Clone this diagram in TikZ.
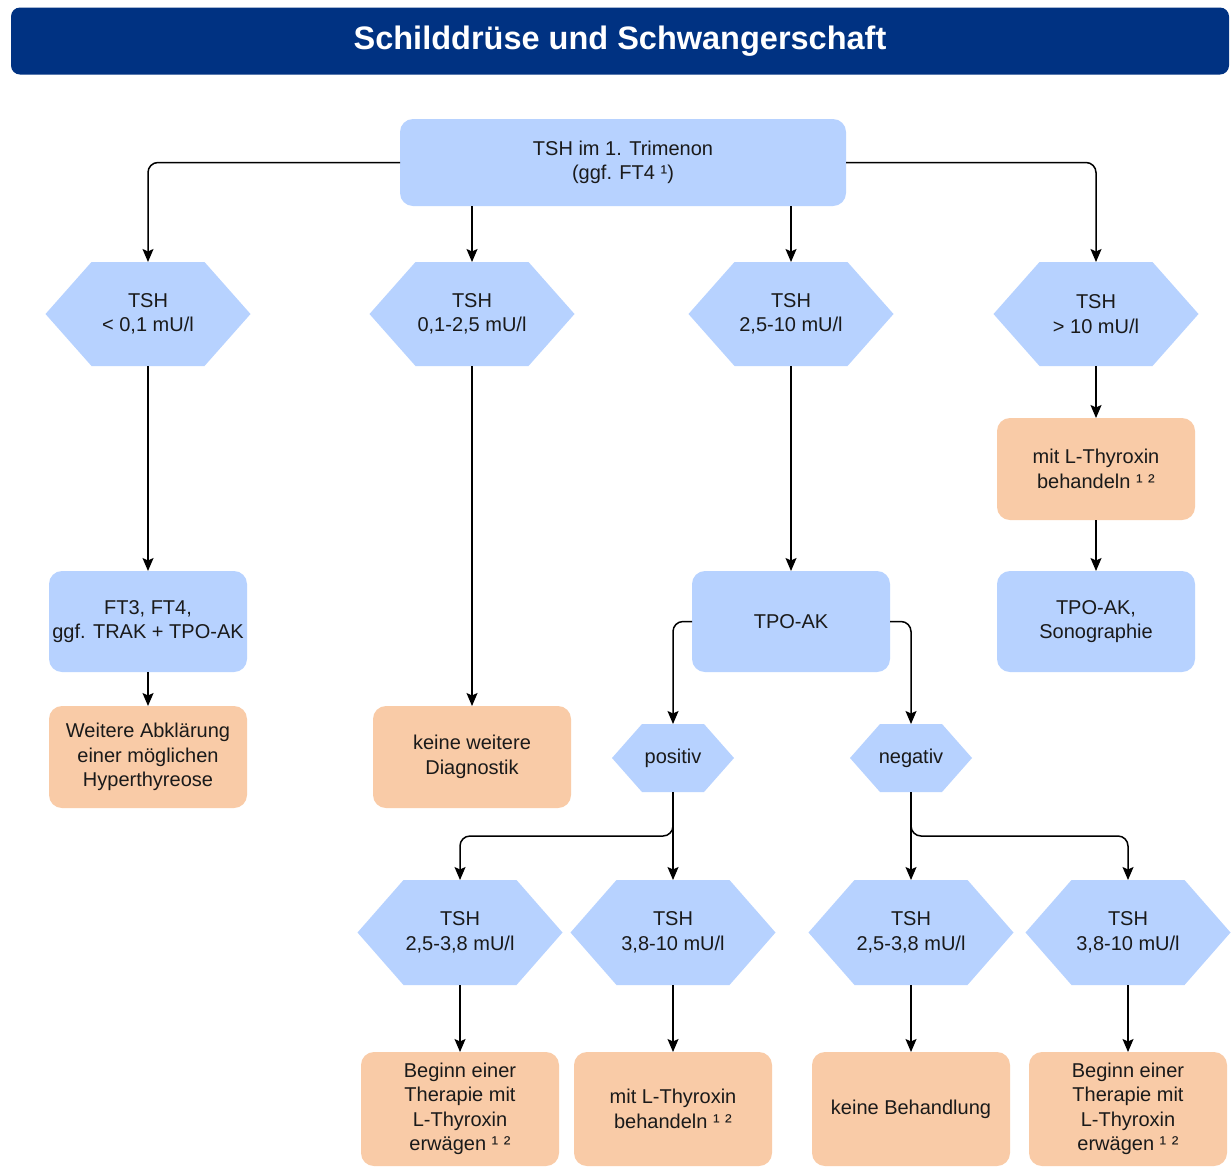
\documentclass[tikz,border=0pt]{standalone}
\usepackage{fontspec}
\setmainfont{Liberation Sans}
\usetikzlibrary{arrows.meta}
\definecolor{titleblue}{RGB}{0,50,130}
\definecolor{boxblue}{RGB}{183,210,255}
\definecolor{boxorange}{RGB}{249,203,167}
\definecolor{ink}{RGB}{26,26,26}
\begin{document}
\begin{tikzpicture}[x=1pt,y=-1pt,
  every node/.style={font=\fontsize{20}{24.5}\selectfont, text=ink, align=center, inner sep=0pt, outer sep=0pt},
  box/.style={rounded corners=13pt, minimum width=198pt, minimum height=101pt},
  bluebox/.style={box, fill=boxblue},
  orangebox/.style={box, fill=boxorange},
  hexa/.style n args={3}{minimum width=#1, minimum height=#2,
    path picture={\fill[boxblue] (path picture bounding box.west)
      -- ([xshift=#3]path picture bounding box.north west)
      -- ([xshift=-#3]path picture bounding box.north east)
      -- (path picture bounding box.east)
      -- ([xshift=-#3]path picture bounding box.south east)
      -- ([xshift=#3]path picture bounding box.south west) -- cycle;}},
  bighex/.style={hexa={205pt}{104pt}{46pt}},
  smallhex/.style={hexa={122pt}{68pt}{30pt}},
  arr/.style={draw=black, line width=1.5pt, rounded corners=10pt,
    -{Stealth[length=13pt,width=11pt,inset=2.5pt]}}
]
\fill[white] (0,0) rectangle (1231,1168);
\useasboundingbox (0,0) rectangle (1231,1168);

% title bar
\node[fill=titleblue, rounded corners=9pt, minimum width=1218pt, minimum height=67pt,
  text=white, font=\bfseries\fontsize{32.5}{36}\selectfont] (title) at (620,41)
  {Schilddrüse und Schwangerschaft};

% start
\node[bluebox, minimum width=446pt, minimum height=87pt] (top) at (623,162.5)
  {TSH im 1. Trimenon\\(ggf. FT4 ¹)};

% first level TSH ranges
\node[bighex] (h1) at (148,314) {TSH\\< 0,1 mU/l};
\node[bighex] (h2) at (472,314) {TSH\\0,1-2,5 mU/l};
\node[bighex] (h3) at (791,314) {TSH\\2,5-10 mU/l};
\node[bighex] (h4) at (1096,314) {TSH\\> 10 mU/l};

% column 1
\node[bluebox] (b1) at (148,621.5) {FT3, FT4,\\ggf. TRAK + TPO-AK};
\node[orangebox, minimum height=102pt] (o1) at (148,757) {Weitere Abklärung\\einer möglichen\\Hyperthyreose};

% column 2
\node[orangebox, minimum height=102pt] (o2) at (472,757) {keine weitere\\Diagnostik};

% column 3
\node[bluebox] (tpo) at (791,621.5) {TPO-AK};
\node[smallhex] (pos) at (673,758) {positiv};
\node[smallhex] (neg) at (911,758) {negativ};

\node[bighex, minimum height=105pt] (r1) at (460,932.5) {TSH\\2,5-3,8 mU/l};
\node[bighex, minimum height=105pt] (r2) at (673,932.5) {TSH\\3,8-10 mU/l};
\node[bighex, minimum height=105pt] (r3) at (911,932.5) {TSH\\2,5-3,8 mU/l};
\node[bighex, minimum height=105pt] (r4) at (1128,932.5) {TSH\\3,8-10 mU/l};

\node[orangebox, minimum height=114pt] (f1) at (460,1109) {Beginn einer\\Therapie mit\\L-Thyroxin\\erwägen ¹ ²};
\node[orangebox, minimum height=114pt] (f2) at (673,1109) {mit L-Thyroxin\\behandeln ¹ ²};
\node[orangebox, minimum height=114pt] (f3) at (911,1109) {keine Behandlung};
\node[orangebox, minimum height=114pt] (f4) at (1128,1109) {Beginn einer\\Therapie mit\\L-Thyroxin\\erwägen ¹ ²};

% column 4
\node[orangebox, minimum height=102pt] (o4) at (1096,469) {mit L-Thyroxin\\behandeln ¹ ²};
\node[bluebox] (b4) at (1096,621.5) {TPO-AK,\\Sonographie};

% branch points
\coordinate (jp) at (673,836);
\coordinate (jn) at (911,836);

% connectors
\draw[arr] (top.west) -| (h1.north);
\draw[arr] (top.south -| h2.north) -- (h2.north);
\draw[arr] (top.south -| h3.north) -- (h3.north);
\draw[arr] (top.east) -| (h4.north);

\draw[arr] (h1.south) -- (b1.north);
\draw[arr] (b1.south) -- (o1.north);
\draw[arr] (h2.south) -- (o2.north);
\draw[arr] (h3.south) -- (tpo.north);
\draw[arr] (h4.south) -- (o4.north);
\draw[arr] (o4.south) -- (b4.north);

\draw[arr] (tpo.west) -| (pos.north);
\draw[arr] (tpo.east) -| (neg.north);

\draw[arr] (pos.south) -- (jp) -| (r1.north);
\draw[arr] (pos.south) -- (r2.north);
\draw[arr] (neg.south) -- (r3.north);
\draw[arr] (neg.south) -- (jn) -| (r4.north);

\draw[arr] (r1.south) -- (f1.north);
\draw[arr] (r2.south) -- (f2.north);
\draw[arr] (r3.south) -- (f3.north);
\draw[arr] (r4.south) -- (f4.north);
\end{tikzpicture}
\end{document}
